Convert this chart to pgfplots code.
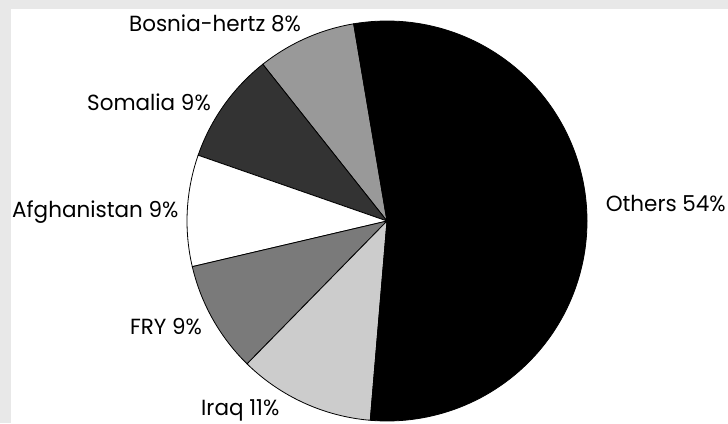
\documentclass[border=0pt]{standalone}
\usepackage{pgfplots}
\pgfplotsset{compat=1.18}
\usepackage{pgfplotstable}
\usepackage{fontspec}
\setmainfont{Poppins}
\definecolor{bggray}{HTML}{E8E8E8}
\definecolor{cbosnia}{HTML}{999999}
\definecolor{csomalia}{HTML}{333333}
\definecolor{cafghan}{HTML}{FFFFFF}
\definecolor{cfry}{HTML}{7A7A7A}
\definecolor{ciraq}{HTML}{CCCCCC}
\definecolor{cothers}{HTML}{000000}
% slice shares in percent, counter-clockwise from the top
\pgfplotstableread{
name        pct
Bosnia      8
Somalia     9
Afghanistan 9
FRY         9
Iraq        11
Others      54
}\slices
\newcommand{\lab}[1]{\scalebox{0.98}[1]{\fontsize{22}{26}\selectfont #1}}
\begin{document}
\begin{tikzpicture}[x=1bp,y=1bp]
\useasboundingbox (0,0) rectangle (728,423);
\clip (0,0) rectangle (728,423);
\fill[bggray] (0,0) rectangle (728,423);
\fill[white] (11,0) rectangle (728,414);
\begin{axis}[at={(0,0)}, anchor=south west, scale only axis,
  width=728bp, height=423bp, xmin=0, xmax=728, ymin=0, ymax=423,
  hide axis, clip=false]
% start angle 99.6 deg; each percent = 3.6 deg
\addplot[draw=black, line width=0.8bp, fill=cbosnia, domain=99.6:99.6+3.6*8, samples=30, variable=\t]
  ({387+200*cos(t)},{202+200*sin(t)}) -- (axis cs:387,202) -- cycle;
\addplot[draw=black, line width=0.8bp, fill=csomalia, domain=99.6+3.6*8:99.6+3.6*17, samples=30, variable=\t]
  ({387+200*cos(t)},{202+200*sin(t)}) -- (axis cs:387,202) -- cycle;
\addplot[draw=black, line width=0.8bp, fill=cafghan, domain=99.6+3.6*17:99.6+3.6*26, samples=30, variable=\t]
  ({387+200*cos(t)},{202+200*sin(t)}) -- (axis cs:387,202) -- cycle;
\addplot[draw=black, line width=0.8bp, fill=cfry, domain=99.6+3.6*26:99.6+3.6*35, samples=30, variable=\t]
  ({387+200*cos(t)},{202+200*sin(t)}) -- (axis cs:387,202) -- cycle;
\addplot[draw=black, line width=0.8bp, fill=ciraq, domain=99.6+3.6*35:99.6+3.6*46, samples=30, variable=\t]
  ({387+200*cos(t)},{202+200*sin(t)}) -- (axis cs:387,202) -- cycle;
\addplot[draw=black, line width=0.8bp, fill=cothers, domain=99.6+3.6*46:99.6+3.6*100, samples=120, variable=\t]
  ({387+200*cos(t)},{202+200*sin(t)}) -- (axis cs:387,202) -- cycle;
\node[anchor=base, inner sep=0pt] at (axis cs:215,391) {\lab{Bosnia-hertz 8\%}};
\node[anchor=base, inner sep=0pt] at (axis cs:149,312) {\lab{Somalia 9\%}};
\node[anchor=base west, inner sep=0pt] at (axis cs:12,205) {\lab{Afghanistan 9\%}};
\node[anchor=base, inner sep=0pt] at (axis cs:166,89) {\lab{FRY 9\%}};
\node[anchor=base west, inner sep=0pt] at (axis cs:201,8) {\lab{Iraq 11\%}};
\node[anchor=base east, inner sep=0pt] at (axis cs:726,211) {\lab{Others 54\%}};
\end{axis}
\end{tikzpicture}
\end{document}
